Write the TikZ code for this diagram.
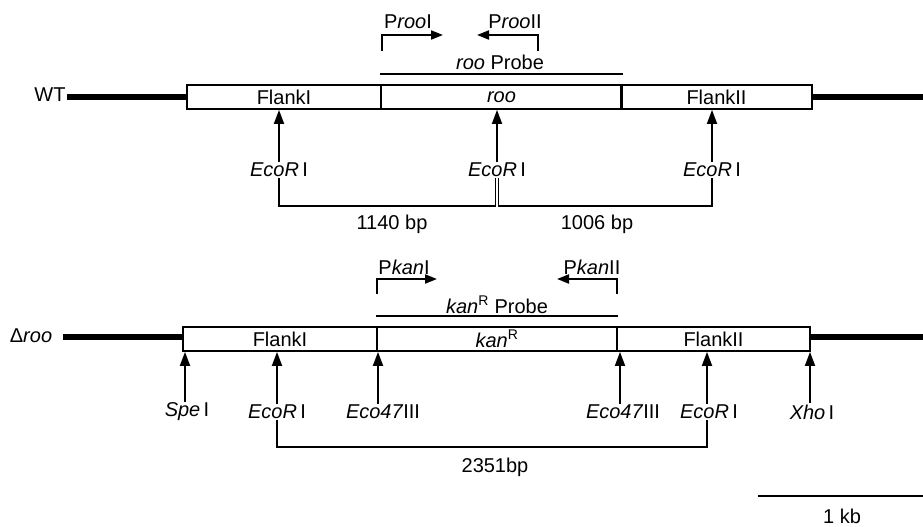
\documentclass[tikz,border=0pt]{standalone}
\usepackage{fontspec}
\setmainfont{Liberation Sans}
\usetikzlibrary{arrows.meta}

\tikzset{
  seg/.style={draw, line width=1.8pt, minimum height=24pt, inner sep=0pt},
  dna/.style={line width=6pt},
  probe/.style={line width=1.8pt},
  primer/.style={line width=1.8pt, -{Triangle[length=12pt,width=9pt]}},
  site/.style={line width=1.8pt, -{Triangle[length=14pt,width=10pt]}},
  bracket/.style={line width=1.8pt},
  lab/.style={inner sep=1pt}
}

\begin{document}
\begin{tikzpicture}[x=1pt, y=-1pt, font=\fontsize{20}{23}\selectfont]
    \useasboundingbox (0,0) rectangle (923,527);
    \coordinate (edgeR) at (923,0);

    % WT
    \node[lab] (wt) at (50,95) {WT};
    \node[seg, minimum width=194pt] (fA) at (284,97) {FlankI};
    \node[seg, minimum width=241pt] (rB) at (501.5,97) {\textit{roo}};
    \node[seg, minimum width=191pt] (fC) at (716.5,97) {FlankII};
    \draw[dna] (fA.west) -- (fA.west -| wt.east);
    \draw[dna] (fC.east) -- (fC.east -| edgeR);

    % sonda e primer roo
    \draw[probe] ([yshift=10pt]rB.north west) -- ([yshift=10pt]rB.north east);
    \node[lab] (rprobe) at (500,62) {\textit{roo} Probe};
    \node[lab] (p1) at (408,22) {P\textit{roo}I};
    \node[lab] (p2) at (515,22) {P\textit{roo}II};
    \draw[primer] (382,51) -- (382,35) -- (443,35);
    \draw[primer] (538,51) -- (538,35) -- (477,35);

    % siti EcoR I
    \node[lab] (e1) at (279,170) {\textit{EcoR}\,I};
    \node[lab] (e2) at (497,170) {\textit{EcoR}\,I};
    \node[lab] (e3) at (712,170) {\textit{EcoR}\,I};
    \foreach \n in {e1,e2,e3}
        \draw[site] (\n.north) -- (\n.north |- fA.south);

    \coordinate (lvlA) at (0,206);
    \coordinate (mA) at ([xshift=-1.5pt]e2.south);
    \coordinate (mB) at ([xshift=1.5pt]e2.south);
    \draw[bracket] (e1.south) |- (mA |- lvlA) -- (mA);
    \draw[bracket] (e3.south) |- (mB |- lvlA) -- (mB);
    \node[lab] (bpA) at (392,224) {1140 bp};
    \node[lab] (bpB) at (597,224) {1006 bp};

    % Delta roo
    \node[lab] (ko) at (31,336) {Δ\textit{roo}};
    \node[seg, minimum width=194pt] (kA) at (280,339) {FlankI};
    \node[seg, minimum width=240pt] (kB) at (497,339) {\textit{kan}\textsuperscript{R}};
    \node[seg, minimum width=193pt] (kC) at (713.5,339) {FlankII};
    \draw[dna] (kA.west) ++(0,-2) -- (63,337);
    \draw[dna] (kC.east) ++(0,-2) -- (923,337);

    % sonda e primer kan
    \draw[probe] ([yshift=10pt]kB.north west) -- ([yshift=10pt]kB.north east);
    \node[lab] (kprobe) at (497,305) {\textit{kan}\textsuperscript{R} Probe};
    \node[lab] (p3) at (404,267) {P\textit{kan}I};
    \node[lab] (p4) at (592,267) {P\textit{kan}II};
    \draw[primer] (377,294) -- (377,279) -- (437,279);
    \draw[primer] (617,294) -- (617,279) -- (557,279);

    % siti di restrizione
    \node[lab] (s1) at (187,412) {\textit{Spe}\,I};
    \node[lab] (s2) at (277,412) {\textit{EcoR}\,I};
    \node[lab] (s3) at (383,412) {\textit{Eco47}III};
    \node[lab] (s4) at (623,412) {\textit{Eco47}III};
    \node[lab] (s5) at (709,412) {\textit{EcoR}\,I};
    \node[lab] (s6) at (812,412) {\textit{Xho}\,I};
    \coordinate (a1) at (185,0);
    \coordinate (a2) at (277,0);
    \coordinate (a3) at (378,0);
    \coordinate (a4) at (620,0);
    \coordinate (a5) at (707,0);
    \coordinate (a6) at (810,0);
    \foreach \i in {1,...,6}
        \draw[site] (a\i |- s\i.north) -- (a\i |- kA.south);

    \coordinate (lvlB) at (0,447);
    \draw[bracket] (a2 |- s2.south) |- (a5 |- lvlB) -- (a5 |- s5.south);
    \node[lab] (bpC) at (495,467) {2351bp};

    % scala
    \coordinate (sbar) at (758,496);
    \draw[bracket] (sbar) -- (sbar -| edgeR);
    \node[lab] (kb) at (842,516) {1 kb};
\end{tikzpicture}
\end{document}
